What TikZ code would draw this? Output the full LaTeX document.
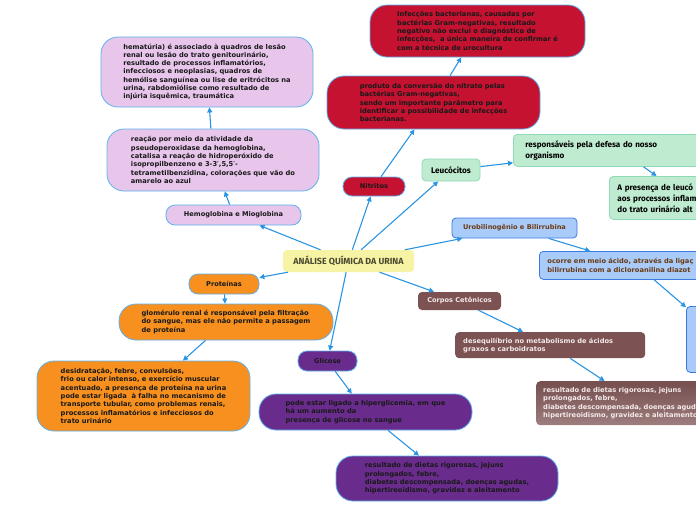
\documentclass[tikz,border=0pt]{standalone}
\usepackage{fontspec}
\setmainfont{DejaVu Sans}
\newfontfamily\tfont{Fira Sans}
\usetikzlibrary{arrows.meta}
\definecolor{cred}{HTML}{C41230}
\definecolor{cpink}{HTML}{E8C6EC}
\definecolor{corange}{HTML}{F7901E}
\definecolor{cpurple}{HTML}{6A2C8C}
\definecolor{cgreen}{HTML}{BFEBD0}
\definecolor{cgreenb}{HTML}{8FD9B8}
\definecolor{cblue}{HTML}{A9CBF9}
\definecolor{cblueb}{HTML}{3A7BE0}
\definecolor{cbrown}{HTML}{7C5252}
\definecolor{cyellow}{HTML}{F7F3A5}
\definecolor{cline}{HTML}{2B95E3}
\definecolor{cedge}{HTML}{5DB1EE}
\definecolor{cbtext}{HTML}{6B3A12}
\definecolor{cwtext}{HTML}{F4EAEA}
\definecolor{cctext}{HTML}{4A4A30}
\tikzset{
  bodyfont/.style={font={\fontsize{6.7}{8.3}\selectfont\bfseries}},
  labfont/.style={font={\fontsize{6.6}{8}\selectfont\bfseries}},
  pill/.style={draw=cedge, line width=0.8pt, rounded corners=17pt, align=left, bodyfont, text=black!90, inner sep=0pt},
  lab/.style={draw=cedge, line width=0.8pt, rounded corners=9pt, align=center, labfont, text=black!90, inner sep=0pt},
  sq/.style={rounded corners=4pt, align=left, inner ysep=0pt, anchor=north west},
  conn/.style={draw=cline, line width=1.1pt, -{Triangle[length=5pt,width=5pt]}},
}
\begin{document}
\begin{tikzpicture}[x=1pt,y=-1pt]
\useasboundingbox (0,0) rectangle (696,520);
\clip (0,0) rectangle (696,520);
\fill[white] (0,0) rectangle (696,520);

% central
\node[fill=cyellow, rounded corners=4pt, minimum width=131pt, minimum height=22pt, inner sep=0pt,
  font={\tfont\fontsize{8.9}{10}\selectfont\bfseries}, text=cctext] (c) at (348.5,261) {ANÁLISE QUÍMICA DA URINA};

% red
\node[pill, fill=cred, minimum width=215pt, minimum height=52pt] (inf) at (477.5,31) {Infecções bacterianas, causadas por\\bactérias Gram-negativas, resultado\\negativo não exclui o diagnóstico de\\infecções,~ a única maneira de confirmar é\\com a técnica de urocultura};
\node[pill, fill=cred, minimum width=213pt, minimum height=53pt] (prod) at (433.5,102.5) {produto da conversão do nitrato pelas\\bactérias Gram-negativas,\\sendo um importante parâmetro para\\identificar a possibilidade de infecções\\bacterianas.};
\node[lab, fill=cred, minimum width=62pt, minimum height=19pt] (nitr) at (374,186.5) {Nitritos};

% pink
\node[pill, fill=cpink, minimum width=212pt, minimum height=70pt] (hema) at (207,72) {hematúria) é associado à quadros de lesão\\renal ou lesão do trato genitourinário,\\resultado de processos inflamatórios,\\infecciosos e neoplasias, quadros de\\hemólise sanguínea ou lise de eritrócitos na\\urina, rabdomiólise como resultado de\\injúria isquêmica, traumática};
\node[pill, fill=cpink, minimum width=212pt, minimum height=62pt] (reac) at (213,160) {reação por meio da atividade da\\pseudoperoxidase da hemoglobina,\\catalisa a reação de hidroperóxido de\\isopropilbenzeno e 3-3′,5,5′-\\tetrametilbenzidina, colorações que vão do\\amarelo ao azul};
\node[lab, fill=cpink, minimum width=135pt, minimum height=20pt] (hemo) at (233.5,215) {Hemoglobina e Mioglobina};

% green
\node[fill=cgreen, draw=cgreenb, line width=0.8pt, rounded corners=4pt, minimum width=58pt, minimum height=22pt, inner sep=0pt,
  font={\tfont\fontsize{8.2}{9}\selectfont\bfseries}] (leuc) at (451,170) {Leucócitos};
\node[sq, fill=cgreen, draw=cgreenb, line width=0.8pt, text width=190pt, inner xsep=12pt, minimum height=32pt,
  font={\tfont\fontsize{8.1}{11}\selectfont\bfseries}] (resp) at (513,134) {responsáveis pela defesa do nosso\\organismo};
\node[sq, fill=cgreen, draw=cgreenb, line width=0.8pt, text width=140pt, inner xsep=8pt, minimum height=43pt,
  font={\tfont\fontsize{8.1}{11}\selectfont\bfseries}] (pres) at (609,176) {A presença de leucó\\aos processos inflam\\do trato urinário alt};

% blue
\node[fill=cblue, draw=cblueb, line width=0.8pt, rounded corners=4pt, minimum width=125pt, minimum height=20pt, inner sep=0pt,
  labfont, text=cbtext] (urob) at (514.5,228) {Urobilinogênio e Bilirrubina};
\node[sq, fill=cblue, draw=cblueb, line width=0.8pt, text width=180pt, inner xsep=8pt, minimum height=28pt,
  bodyfont, text=cbtext] (ocor) at (539,251) {ocorre em meio ácido, através da ligaç\\bilirrubina com a dicloroanilina diazot};
\node[sq, fill=cblue, draw=cblueb, line width=0.8pt, minimum width=74pt, minimum height=66pt, inner sep=0pt] (blu3) at (686,306) {};

% brown
\node[fill=cbrown, rounded corners=4pt, minimum width=83pt, minimum height=18pt, inner sep=0pt,
  labfont, text=cwtext] (corp) at (459.5,301) {Corpos Cetônicos};
\node[sq, fill=cbrown, text width=174pt, inner xsep=8pt, minimum height=26pt, bodyfont, text=cwtext] (deseq) at (455,332) {desequilíbrio no metabolismo de ácidos\\graxos e carboidratos};
\node[sq, top color=cbrown!95!black, bottom color=cbrown!75!white, text width=190pt, inner xsep=7pt, minimum height=44pt, bodyfont, text=cwtext] (resb) at (536,381) {resultado de dietas rigorosas, jejuns\\prolongados, febre,\\diabetes descompensada, doenças agudas,\\hipertireoidismo, gravidez e aleitamento};

% orange
\node[lab, fill=corange, minimum width=70pt, minimum height=20pt] (prot) at (224,284) {Proteínas};
\node[pill, fill=corange, minimum width=214pt, minimum height=36pt] (glom) at (226,322) {glomérulo renal é responsável pela filtração\\do sangue, mas ele não permite a passagem\\de proteína};
\node[pill, fill=corange, minimum width=213pt, minimum height=70pt] (desid) at (143.5,396) {desidratação, febre, convulsões,\\frio ou calor intenso, e exercício muscular\\acentuado, a presença de proteína na urina\\pode estar ligada~ à falha no mecanismo de\\transporte tubular, como problemas renais,\\processos inflamatórios e infecciosos do\\trato urinário};

% purple
\node[lab, fill=cpurple, minimum width=59pt, minimum height=20pt] (glic) at (327.5,361) {Glicose};
\node[pill, fill=cpurple, minimum width=213pt, minimum height=36pt] (pode) at (365.5,412) {pode estar ligado a hiperglicemia, em que\\há um aumento da\\presença de glicose no sangue};
\node[pill, fill=cpurple, minimum width=222pt, minimum height=45pt] (resp2) at (447,478.5) {resultado de dietas rigorosas, jejuns\\prolongados, febre,\\diabetes descompensada, doenças agudas,\\hipertireoidismo, gravidez e aleitamento};

% connectors
\draw[conn] (c) -- (hemo);
\draw[conn] (hemo) -- (reac);
\draw[conn] (reac) -- (hema);
\draw[conn] (c) -- (nitr);
\draw[conn] (nitr) -- (prod);
\draw[conn] (prod) -- (inf);
\draw[conn] (c) -- (leuc);
\draw[conn] (leuc) -- (resp);
\draw[conn] (resp) -- (pres);
\draw[conn] (c) -- (urob);
\draw[conn] (urob) -- (ocor);
\draw[conn] (ocor) -- (blu3);
\draw[conn] (c) -- (corp);
\draw[conn] (corp) -- (deseq);
\draw[conn] (deseq) -- (resb);
\draw[conn] (c) -- (prot);
\draw[conn] (prot) -- (glom);
\draw[conn] (glom) -- (desid);
\draw[conn] (c) -- (glic);
\draw[conn] (glic) -- (pode);
\draw[conn] (pode) -- (resp2);
\end{tikzpicture}
\end{document}
